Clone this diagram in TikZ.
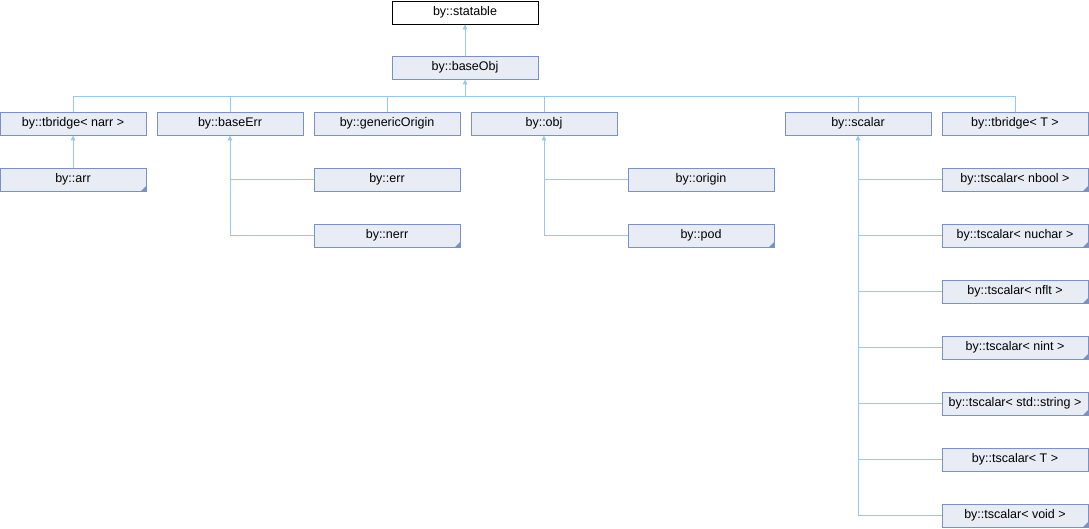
\documentclass[tikz,border=0pt]{standalone}
\usepackage{fontspec}
\setmainfont{Liberation Sans}
\usetikzlibrary{arrows.meta}
\definecolor{boxfill}{RGB}{232,236,244}
\definecolor{boxline}{RGB}{122,145,200}
\definecolor{edgeblue}{RGB}{150,202,232}

\begin{document}
\begin{tikzpicture}[x=1pt,y=-1pt]
	\tikzset{>={Triangle[width=4.5pt,length=5pt]}}
	\tikzset{cls/.style={draw=boxline,fill=boxfill,line width=0.9pt,minimum width=146pt,minimum height=23pt,inner sep=0pt,font=\fontsize{12.5}{14}\selectfont}}
	\tikzset{root/.style={cls,draw=black,fill=white}}
	\tikzset{leaf/.style={cls,path picture={\fill[boxline] (path picture bounding box.south east) -- ++(-5pt,0pt) -- ++(5pt,5pt) -- cycle;}}}
	\tikzset{edge/.style={edgeblue,line width=0.9pt}}
	
	\useasboundingbox (0,0) rectangle (1089,528);
	
	\node[root] (statable) at (465,12.5) {by::statable};
	\node[cls] (baseObj) at (465,67.5) {by::baseObj};
	
	% first row
	\node[cls] (tbridgeNarr) at (73,123.5) {by::tbridge< narr >};
	\node[cls] (baseErr) at (230,123.5) {by::baseErr};
	\node[cls] (genericOrigin) at (387,123.5) {by::genericOrigin};
	\node[cls] (obj) at (544,123.5) {by::obj};
	\node[cls] (scalar) at (858,123.5) {by::scalar};
	\node[cls] (tbridgeT) at (1015,123.5) {by::tbridge< T >};
	
	\node[leaf] (arr) at (73,179.5) {by::arr};
	\node[cls] (err) at (387,179.5) {by::err};
	\node[leaf] (nerr) at (387,235.5) {by::nerr};
	\node[cls] (origin) at (701,179.5) {by::origin};
	\node[leaf] (pod) at (701,235.5) {by::pod};
	
	\foreach \n/\t/\y in {nbool/nbool/179.5, nuchar/nuchar/235.5, nflt/nflt/291.5, nint/nint/347.5, string/std::string/403.5, void/void/515.5}
	\node[leaf] (ts\n) at (1015,\y) {by::tscalar< \t{} >};
	\node[cls] (tsT) at (1015,459.5) {by::tscalar< T >};
	
	\coordinate (bus) at (465,96);
	
	\draw[edge,->] (baseObj) -- (statable);
	\draw[edge,->] (bus) -- (baseObj);
	\draw[edge] (tbridgeNarr.north) -- (tbridgeNarr.north |- bus) -- (tbridgeT.north |- bus) -- (tbridgeT.north);
	\foreach \n in {baseErr,genericOrigin,obj,scalar}
	\draw[edge] (\n.north) -- (\n.north |- bus);
	
	\draw[edge,->] (arr) -- (tbridgeNarr);
	
	\draw[edge,<-] (baseErr.south) |- (nerr.west);
	\draw[edge] (baseErr.south |- err.west) -- (err.west);
	
	\draw[edge,<-] (obj.south) |- (pod.west);
	\draw[edge] (obj.south |- origin.west) -- (origin.west);
	
	\draw[edge,<-] (scalar.south) |- (tsvoid.west);
	\foreach \n in {tsnbool,tsnuchar,tsnflt,tsnint,tsstring,tsT}
	\draw[edge] (scalar.south |- \n.west) -- (\n.west);
	
\end{tikzpicture}
\end{document}
